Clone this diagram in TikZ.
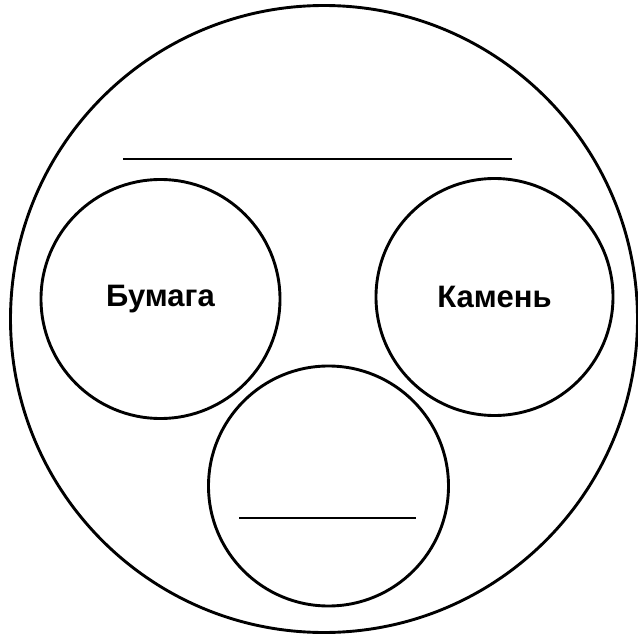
\documentclass[tikz,border=0pt]{standalone}
\usepackage{fontspec}
\setmainfont{Liberation Sans}
\begin{document}
\begin{tikzpicture}[
  x=1pt, y=-1pt,
  ring/.style={draw, circle, line width=2.9pt, inner sep=0pt, font=\bfseries\fontsize{31}{36}\selectfont},
  blank/.style={line width=2.9pt}
]
\useasboundingbox (0,0) rectangle (638,634);
\node[ring, minimum size=627pt] (all) at (324,319) {};
\node[ring, minimum size=239pt] (paper) at (160.5,299) {Бумага};
\node[ring, minimum size=237pt] (stone) at (494.5,297) {Камень};
\node[ring, minimum size=240pt] (third) at (328.5,486) {};
\coordinate (t1) at (123,159);
\coordinate (t2) at (512,159);
\coordinate (b1) at (239,518);
\coordinate (b2) at (416,518);
\draw[blank] (t1) -- (t2);
\draw[blank] (b1) -- (b2);
\end{tikzpicture}
\end{document}
